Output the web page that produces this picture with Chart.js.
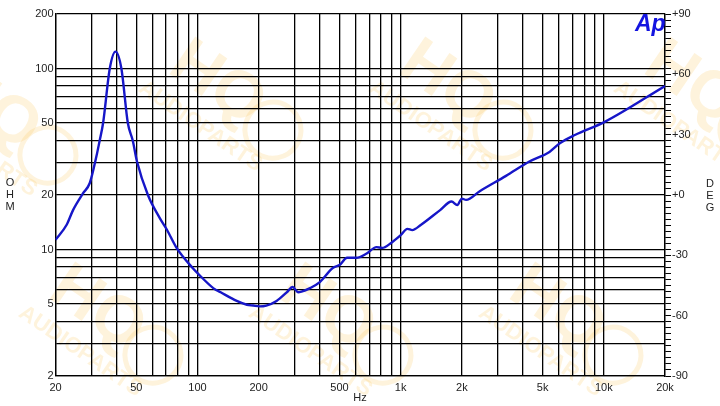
<!DOCTYPE html>
<html>
<head>
<meta charset="utf-8">
<script src="https://cdn.jsdelivr.net/npm/chart.js@4.4.0/dist/chart.umd.min.js"></script>
<style>
  html, body { margin: 0; padding: 0; background: #fff; }
  #wrap { width: 720px; height: 406px; position: relative; }
</style>
</head>
<body>
<div id="wrap"><canvas id="c"></canvas></div>
<script>
// impedance curve
var freqs = [20, 22.7, 24.4, 27.3, 29.5, 31.8, 33, 34.3, 37, 39.5, 42.2, 45.4, 48, 50.4, 57, 65, 70.6, 78.9, 94.6,
             100, 120, 130, 156, 175, 188, 202, 218, 245, 275, 294, 313, 325, 356, 400, 463, 500, 545, 606, 680,
             760, 810, 900, 1000, 1080, 1140, 1260, 1564, 1780, 1900, 2000, 2100, 2450, 3300, 4300, 5400, 6070,
             7200, 10100, 20000];
var ohms = [11.3, 13.7, 16.5, 20.4, 23.3, 32.7, 40, 50, 100, 124, 100, 50, 40, 30.5, 20, 15.0, 12.9, 10.2, 7.9,
            7.4, 6.1, 5.8, 5.2, 4.95, 4.9, 4.85, 4.9, 5.2, 5.8, 6.2, 5.8, 5.85, 6.1, 6.6, 7.9, 8.2, 9.0, 9.0, 9.5,
            10.3, 10.2, 10.9, 12.0, 13.0, 12.8, 13.7, 16.5, 18.4, 17.6, 19.1, 18.8, 21, 25.5, 30.6, 34.6, 38.6,
            42.9, 50.7, 80];

var xGrid = [20, 30, 40, 50, 60, 70, 80, 90, 100, 200, 300, 400, 500, 600, 700, 800, 900,
             1000, 2000, 3000, 4000, 5000, 6000, 7000, 8000, 9000, 10000, 20000];
var xLabels = {20: '20', 50: '50', 100: '100', 200: '200', 500: '500', 1000: '1k', 2000: '2k',
               5000: '5k', 10000: '10k', 20000: '20k'};
var yGrid = [2, 3, 4, 5, 6, 7, 8, 9, 10, 20, 30, 40, 50, 60, 70, 80, 90, 100, 200];
var yLabels = {2: '2', 5: '5', 10: '10', 20: '20', 50: '50', 100: '100', 200: '200'};
var degLabels = {90: '+90', 60: '+60', 30: '+30', 0: '+0', '-30': '-30', '-60': '-60', '-90': '-90'};

var pts = freqs.map(function (f, i) { return {x: f, y: ohms[i]}; });

var font = {family: 'Arial, "Liberation Sans", sans-serif', size: 11};

function fixTicks(list) {
    return function (scale) {
        scale.ticks = list.map(function (v) { return {value: v}; });
    };
}

var decor = {
    id: 'decor',
    beforeDraw: function (chart) {
        var ctx = chart.ctx;
        ctx.save();
        ctx.fillStyle = '#fff';
        ctx.fillRect(0, 0, chart.width, chart.height);
        // faint watermark
        var spots = [[-10, 130], [215, 105], [445, 105], [690, 105], [95, 330], [325, 330], [555, 330]];
        ctx.fillStyle = 'rgba(252, 196, 80, 0.2)';
        ctx.strokeStyle = 'rgba(252, 196, 80, 0.2)';
        spots.forEach(function (s) {
            ctx.save();
            ctx.translate(s[0], s[1]);
            ctx.rotate(0.6);
            ctx.font = 'bold 66px Arial, "Liberation Sans", sans-serif';
            ctx.textAlign = 'center';
            ctx.fillText('HQ', -10, 0);
            ctx.font = 'bold 22px Arial, "Liberation Sans", sans-serif';
            ctx.fillText('AUDIOPARTS', 0, 32);
            ctx.lineWidth = 5;
            ctx.beginPath();
            ctx.arc(62, -12, 28, 0, Math.PI * 2);
            ctx.stroke();
            ctx.restore();
        });
        ctx.restore();
    },
    afterDraw: function (chart) {
        var ctx = chart.ctx;
        ctx.save();
        ctx.fillStyle = '#222';
        ctx.font = '11px Arial, "Liberation Sans", sans-serif';
        ctx.textAlign = 'center';
        ctx.textBaseline = 'middle';
        ['O', 'H', 'M'].forEach(function (c, i) { ctx.fillText(c, 10, 183 + i * 12); });
        ['D', 'E', 'G'].forEach(function (c, i) { ctx.fillText(c, 710, 184 + i * 12); });
        ctx.fillText('Hz', 360, 398);
        ctx.fillStyle = '#1414e0';
        ctx.font = 'italic bold 23px Arial, "Liberation Sans", sans-serif';
        ctx.textAlign = 'left';
        ctx.textBaseline = 'alphabetic';
        ctx.fillText('Ap', 635, 31);
        ctx.restore();
    }
};

new Chart(document.getElementById('c'), {
    type: 'line',
    data: {
        datasets: [{
            data: pts,
            yAxisID: 'y',
            borderColor: '#1616c8',
            borderWidth: 2.4,
            pointRadius: 0,
            cubicInterpolationMode: 'monotone',
            fill: false
        }]
    },
    options: {
        responsive: true,
        maintainAspectRatio: false,
        animation: false,
        layout: {padding: {top: 14, left: 0, right: 0, bottom: 0}},
        plugins: {legend: {display: false}, tooltip: {enabled: false}},
        scales: {
            x: {
                type: 'logarithmic',
                min: 20, max: 20000,
                afterBuildTicks: fixTicks(xGrid),
                afterFit: function (s) { s.height = 30; },
                grid: {color: '#000', lineWidth: 1.3, drawTicks: false},
                border: {color: '#000', width: 1.3},
                ticks: {
                    color: '#222', font: font, padding: 5, autoSkip: false, maxRotation: 0,
                    callback: function (v) { return xLabels[v] || ''; }
                }
            },
            y: {
                type: 'logarithmic',
                position: 'left',
                min: 2, max: 200,
                afterBuildTicks: fixTicks(yGrid),
                afterFit: function (s) { s.width = 55.5; },
                grid: {color: '#000', lineWidth: 1.3, drawTicks: false},
                border: {color: '#000', width: 1.3},
                ticks: {
                    color: '#222', font: font, padding: 2, autoSkip: false,
                    callback: function (v) { return yLabels[v] || ''; }
                }
            },
            deg: {
                type: 'linear',
                position: 'right',
                min: -90, max: 90,
                afterFit: function (s) { s.width = 55; },
                grid: {drawOnChartArea: false, color: '#000', lineWidth: 1, tickLength: 6},
                border: {color: '#000', width: 1.3},
                ticks: {
                    stepSize: 3, autoSkip: false, color: '#222', font: font, padding: 1,
                    callback: function (v) { return degLabels[v] || ''; }
                }
            }
        }
    },
    plugins: [decor]
});
</script>
</body>
</html>
